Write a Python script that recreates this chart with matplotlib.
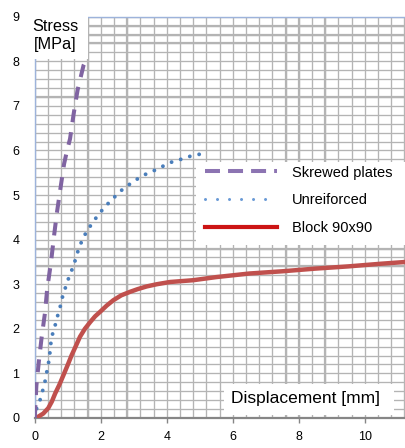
import matplotlib

matplotlib.use("Agg")
import matplotlib.pyplot as plt
from matplotlib.lines import Line2D
from matplotlib.patches import Rectangle
from matplotlib.ticker import MultipleLocator

plt.rcParams["font.family"] = ["Liberation Sans", "DejaVu Sans"]

# Load-displacement curves (displacement in mm, stress in MPa)
disp_block = [0.0, 0.11, 0.26, 0.41, 0.52, 0.62, 0.75, 0.87, 1.0, 1.12,
              1.25, 1.37, 1.52, 1.68, 1.83, 1.98, 2.18, 2.38, 2.62, 2.89,
              3.12, 3.39, 3.7, 4.1, 4.8, 5.5, 6.5, 7.5, 8.5, 9.5, 10.5, 11.25]
stress_block = [0.0, 0.03, 0.1, 0.22, 0.37, 0.55, 0.75, 0.96, 1.19, 1.41,
                1.62, 1.82, 2.0, 2.15, 2.28, 2.38, 2.52, 2.64, 2.75, 2.83,
                2.89, 2.95, 3.0, 3.05, 3.09, 3.16, 3.24, 3.29, 3.35, 3.40,
                3.46, 3.50]

disp_unr = [0.0, 0.06, 0.16, 0.24, 0.31, 0.36, 0.42, 0.46, 0.49, 0.54,
            0.62, 0.69, 0.77, 0.84, 0.92, 1.02, 1.12, 1.22, 1.30, 1.40,
            1.52, 1.68, 1.85, 2.03, 2.21, 2.41, 2.65, 2.89, 3.11, 3.37,
            3.65, 3.92, 4.18, 4.47, 4.75, 5.03]
stress_unr = [0.0, 0.22, 0.40, 0.61, 0.81, 1.01, 1.24, 1.46, 1.68, 1.88,
              2.08, 2.28, 2.49, 2.71, 2.90, 3.12, 3.31, 3.52, 3.72, 3.92,
              4.11, 4.30, 4.48, 4.65, 4.80, 4.95, 5.12, 5.25, 5.36, 5.47,
              5.56, 5.66, 5.75, 5.81, 5.88, 5.92]

disp_skr = [0.0, 0.01, 0.05, 0.12, 0.21, 0.31, 0.38, 0.49, 0.58, 0.67,
            0.78, 0.89, 0.98, 1.07, 1.18, 1.30, 1.48, 1.57]
stress_skr = [0.0, 0.11, 0.72, 1.23, 1.81, 2.35, 2.91, 3.47, 4.05, 4.59,
              5.15, 5.70, 6.0, 6.26, 6.82, 7.36, 7.91, 8.05]

series_labels = ["Skrewed plates", "Unreiforced", "Block 90x90"]
x_ticks = [0, 2, 4, 6, 8, 10]

# heavier lines of the graph-paper background
heavy_x = [1.6, 2.8, 7.6, 8.0, 8.8]
heavy_y = [3.4, 3.8, 7.2, 8.4, 8.6, 8.8]

GRID = "#B4B4B4"
AXIS_BLUE = "#9DB3DB"

fig = plt.figure(figsize=(4.06, 4.48), dpi=100)
ax = fig.add_axes([0.0855, 0.067, 0.9145, 0.8957])
ax.set_xlim(0, 11.25)
ax.set_ylim(0, 9)

ax.set_xticks(x_ticks)
ax.xaxis.set_minor_locator(MultipleLocator(0.4))
ax.yaxis.set_major_locator(MultipleLocator(1))
ax.yaxis.set_minor_locator(MultipleLocator(0.2))
ax.set_axisbelow(True)
ax.grid(which="both", color=GRID, lw=0.95)
for v in heavy_x:
    ax.axvline(v, color=GRID, lw=1.6, zorder=0.6)
for v in heavy_y:
    ax.axhline(v, color=GRID, lw=1.6, zorder=0.6)

ax.tick_params(which="minor", length=0)
ax.tick_params(axis="x", which="major", direction="out", length=3.6,
               width=1.0, color="#868686", pad=6, labelsize=9)
ax.tick_params(axis="y", which="major", length=0, pad=11, labelsize=9)

ax.spines["right"].set_visible(False)
ax.spines["top"].set_color(AXIS_BLUE)
ax.spines["left"].set_color(AXIS_BLUE)
ax.spines["top"].set_linewidth(1.0)
ax.spines["left"].set_linewidth(1.0)
ax.spines["bottom"].set_color("#868686")
ax.spines["bottom"].set_linewidth(1.6)

ax.plot(disp_block, stress_block, color="#C0504D", lw=3.2,
        solid_capstyle="round", zorder=4)
ax.plot(disp_unr, stress_unr, color="#4A7EBB", lw=2.8,
        linestyle=(0, (0.01, 2.45)), dash_capstyle="round", zorder=4)
ax.plot(disp_skr, stress_skr, color="#8064A2", lw=2.9,
        linestyle=(0, (3.2, 2.5)), zorder=4)

# white label boxes sitting on the grid
ax.add_patch(Rectangle((-0.17, 8.05), 1.77, 1.6, facecolor="white",
                       edgecolor="none", clip_on=False, zorder=5))
ax.add_patch(Rectangle((5.74, 0.065), 5.15, 0.70, facecolor="white",
                       edgecolor="none", zorder=5))
ax.add_patch(Rectangle((4.89, 3.88), 6.5, 1.87, facecolor="white",
                       edgecolor="none", clip_on=False, zorder=5))

ax.text(0.0547, 0.953, "Stress\n[MPa]", transform=ax.transAxes,
        ha="center", va="center", multialignment="center", fontsize=11.7,
        linespacing=1.2, zorder=6, clip_on=False)
ax.text(8.2, 0.43, "Displacement [mm]", ha="center", va="center",
        fontsize=12.5, zorder=6)

handles = [
    Line2D([], [], color="#8C74B2", lw=2.9, linestyle=(0, (3.72, 2.0))),
    Line2D([], [], color="#6A9AD6", lw=2.2, linestyle=(0, (0.01, 3.92)),
           dash_capstyle="round"),
    Line2D([], [], color="#CC1414", lw=3.0),
]
leg = ax.legend(handles, series_labels, loc="upper left",
                bbox_to_anchor=(0.4587, 0.629), frameon=False, borderpad=0,
                borderaxespad=0, handlelength=4.93, handletextpad=1.0,
                labelspacing=0.95, fontsize=10.5)
leg.set_zorder(7)

fig.savefig("out.png", dpi=100)
